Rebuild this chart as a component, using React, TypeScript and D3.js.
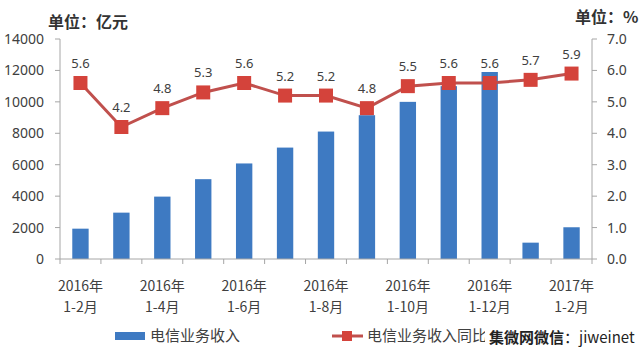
import * as d3 from 'd3';

const categories = [
  '2016年1-2月', '2016年1-3月', '2016年1-4月', '2016年1-5月', '2016年1-6月', '2016年1-7月',
  '2016年1-8月', '2016年1-9月', '2016年1-10月', '2016年1-11月', '2016年1-12月', '2017年1-1月', '2017年1-2月',
];
const tickLabels: [string, string][] = [
  ['2016年', '1-2月'], ['', ''], ['2016年', '1-4月'], ['', ''], ['2016年', '1-6月'], ['', ''],
  ['2016年', '1-8月'], ['', ''], ['2016年', '1-10月'], ['', ''], ['2016年', '1-12月'], ['', ''], ['2017年', '1-2月'],
];
const revenue = [1930, 2950, 3970, 5080, 6080, 7090, 8110, 9150, 10000, 11000, 11900, 1040, 2020];
const growth = [5.6, 4.2, 4.8, 5.3, 5.6, 5.2, 5.2, 4.8, 5.5, 5.6, 5.6, 5.7, 5.9];
const leftTicks = [0, 2000, 4000, 6000, 8000, 10000, 12000, 14000];
const rightTicks = [0, 1, 2, 3, 4, 5, 6, 7];

const BLUE = '#3E7AC2';
const RED = '#C0504D';
const MARK = '#D4433B';
const AXIS = '#A6A6A6';
const TEXT = '#404040';
const FONT = '"Noto Sans", "Noto Sans CJK SC", sans-serif';
const CJK = '"Noto Sans CJK SC", sans-serif';

export default function App() {
  const left = 60, right = 592, top = 39, bottom = 259;
  const x = d3.scaleBand<string>().domain(categories).range([left, right]).paddingInner(0.6).paddingOuter(0.3);
  const xb = d3.scaleBand<string>().domain(categories).range([left, right]);
  const yL = d3.scaleLinear().domain([0, 14000]).range([bottom, top]);
  const yR = d3.scaleLinear().domain([0, 7]).range([bottom, top]);
  const cx = (c: string) => (xb(c) ?? 0) + xb.bandwidth() / 2;
  const line = d3.line<number>().x((_, i) => cx(categories[i])).y(d => yR(d));

  return (
    <svg width={640} height={360} style={{ position: 'absolute', left: 0, top: 0, background: '#fff' }}>
      <rect width={640} height={360} fill="#fff" />
      <text x={48} y={28} fontFamily={CJK} fontSize={16} fontWeight="bold" fill="#333">单位：亿元</text>
      <text x={575} y={23} fontFamily={CJK} fontSize={16} fontWeight="bold" fill="#333">单位：%</text>

      {/* left axis */}
      <line x1={left} x2={left} y1={top} y2={bottom} stroke={AXIS} />
      {leftTicks.map(t => (
        <g key={t}>
          <line x1={left - 5} x2={left} y1={yL(t)} y2={yL(t)} stroke={AXIS} />
          <text x={44} y={yL(t) + 5} textAnchor="end" fontFamily={FONT} fontSize={14} fill={TEXT}>{t}</text>
        </g>
      ))}
      {/* right axis */}
      <line x1={right} x2={right} y1={top} y2={bottom} stroke={AXIS} />
      {rightTicks.map(t => (
        <g key={t}>
          <line x1={right} x2={right + 5} y1={yR(t)} y2={yR(t)} stroke={AXIS} />
          <text x={607} y={yR(t) + 5} fontFamily={FONT} fontSize={14} fill={TEXT}>{t.toFixed(1)}</text>
        </g>
      ))}

      {/* bars */}
      {revenue.map((v, i) => (
        <rect key={i} x={x(categories[i])} y={yL(v)} width={x.bandwidth()} height={bottom - yL(v)} fill={BLUE} />
      ))}

      {/* x axis */}
      <line x1={left} x2={right} y1={bottom} y2={bottom} stroke={AXIS} />
      {categories.map(c => (
        <line key={c} x1={(xb(c) ?? 0) + xb.bandwidth()} x2={(xb(c) ?? 0) + xb.bandwidth()} y1={bottom} y2={bottom + 5} stroke={AXIS} />
      ))}
      <line x1={left} x2={left} y1={bottom} y2={bottom + 5} stroke={AXIS} />
      {tickLabels.map((l, i) => l[0] ? (
        <g key={i}>
          <text x={cx(categories[i])} y={291} textAnchor="middle" fontFamily={CJK} fontSize={14} fill={TEXT}>{l[0]}</text>
          <text x={cx(categories[i])} y={312} textAnchor="middle" fontFamily={CJK} fontSize={14} fill={TEXT}>{l[1]}</text>
        </g>
      ) : null)}

      {/* line */}
      <path d={line(growth) ?? ''} fill="none" stroke={RED} strokeWidth={3} />
      {growth.map((v, i) => (
        <g key={i}>
          <rect x={cx(categories[i]) - 7} y={yR(v) - 7} width={14} height={14} fill={MARK} />
          <text x={cx(categories[i])} y={yR(v) - 15} textAnchor="middle" fontFamily={FONT} fontSize={13} fill={TEXT}>{v.toFixed(1)}</text>
        </g>
      ))}

      {/* legend */}
      <rect x={115} y={332} width={30} height={8} fill={BLUE} />
      <text x={150} y={341} fontFamily={CJK} fontSize={15} fill={TEXT}>电信业务收入</text>
      <line x1={332} x2={363} y1={336} y2={336} stroke={RED} strokeWidth={3} />
      <rect x={342} y={331} width={10} height={10} fill={MARK} />
      <text x={367} y={341} fontFamily={CJK} fontSize={15} fill={TEXT}>电信业务收入同比</text>
      <rect x={485} y={322} width={155} height={30} fill="#fff" />
      <text x={489} y={343} fontFamily={CJK} fontSize={15} fill="#222">
        <tspan fontWeight="bold">集微网微信</tspan><tspan>：jiweinet</tspan>
      </text>
    </svg>
  );
}
